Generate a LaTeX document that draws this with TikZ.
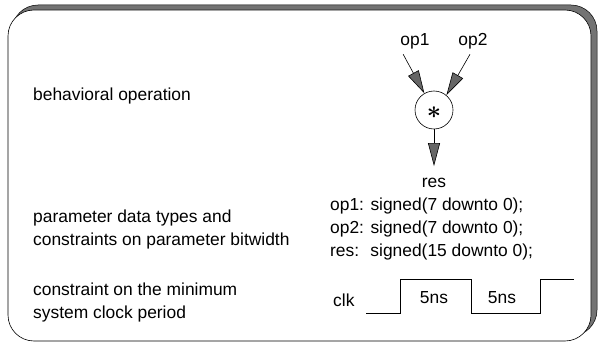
\documentclass[tikz,border=0pt]{standalone}
\usepackage{bm}
\usepackage{fontspec}
\setmainfont{Liberation Sans}
\usetikzlibrary{arrows.meta,positioning}

\begin{document}
\begin{tikzpicture}[x=1pt,y=-1pt,
  txt/.style={font=\fontsize{17.4}{23}\selectfont, inner sep=0pt},
  lbl/.style={txt, anchor=base west},
  flow/.style={line width=0.6pt, -{Triangle[length=23pt,width=12pt,fill=black!60]}}]
\useasboundingbox (0,0) rectangle (600,345);

% Frame with shadow
\filldraw[fill=black!55, draw=black, line width=0.5pt, rounded corners=26pt] (12,5) rectangle (597,336);
\filldraw[fill=white, draw=black, line width=0.6pt, rounded corners=26pt] (8,10) rectangle (591,341);

% Left column
\node[lbl] (beh) at (33,100) {behavioral operation};
\node[lbl] (par1) at (33,222) {parameter data types and};
\node[lbl] (par2) at (33,245) {constraints on parameter bitwidth};
\node[lbl] (con1) at (33,295) {constraint on the minimum};
\node[lbl] (con2) at (33,318) {system clock period};

% Operation
\node[txt] (op1) at (415,41) {op1};
\node[txt] (op2) at (473,41) {op2};
\node[draw, circle, minimum size=38pt, inner sep=0pt, line width=0.6pt] (mul) at (434,110) {};
\node (star) at (434,113) {\fontsize{24}{24}\selectfont$\bm{\ast}$};
\node[txt] (res) at (434,183) {res};
\draw[flow, shorten <=6pt] (op1.south west) -- (mul.120);
\draw[flow, shorten <=6pt] (op2.south) -- (mul.50);
\draw[flow, shorten >=12pt] (mul.south) -- (res.north);

% Types
\node[lbl] (tyop1) at (330,210) {op1: signed(7 downto 0);};
\node[lbl] (tyop2) at (330,233) {op2: signed(7 downto 0);};
\node[lbl] (tyres) at (330,256) {res:~ signed(15 downto 0);};

% Clock
\node[lbl] (clk) at (333,306) {clk};
\draw[line width=0.6pt] (366,313) -- (400,313) -- (400,279) -- (471,279)
  -- (471,313) -- (540,313) -- (540,279) -- (574,279);
\node[txt] (p1) at (434,298) {5ns};
\node[txt] (p2) at (502,298) {5ns};
\end{tikzpicture}
\end{document}
